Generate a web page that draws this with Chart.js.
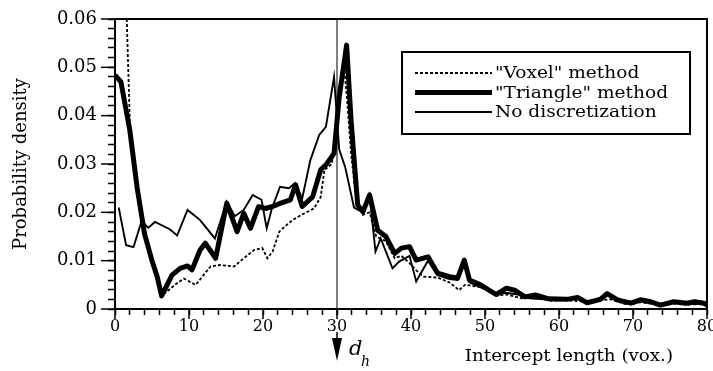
<!DOCTYPE html>
<html><head><meta charset="utf-8">
<script src="https://cdn.jsdelivr.net/npm/chart.js@4/dist/chart.umd.min.js"></script>
<style>html,body{margin:0;padding:0;background:#fff}canvas{display:block}</style>
</head><body>
<canvas id="c" width="713" height="371"></canvas>
<script>
// ---- data ----
const xTickLabels = ['0','10','20','30','40','50','60','70','80'];
const yTickLabels = ['0','0.01','0.02','0.03','0.04','0.05','0.06'];
const seriesNames = ['"Voxel" method', '"Triangle" method', 'No discretization'];
const xTitle = 'Intercept length (vox.)';
const yTitle = 'Probability density';
const dhValue = 30;

const voxelX = [1,2,2.7,3.6,5,6.5,7.0,8.1,9.3,10.9,11.8,12.9,14.2,16.1,17.4,18.8,19.9,20.6,21.3,22.2,22.9,24.0,25.1,26.9,27.8,28.3,29.3,29.9,30.5,31.0,31.4,31.9,32.6,33.5,34.4,35.3,36.6,37.8,38.7,39.8,40.7,41.7,43.6,45.2,46.5,47.3,49.4,51.5,53,55,57,59,61,63,65,67,69,71,73,75,77,79,80];
const voxelY = [0.09,0.039,0.029,0.019,0.0105,0.003,0.0036,0.0050,0.0063,0.0050,0.0067,0.0088,0.0091,0.0088,0.0105,0.0122,0.0126,0.0105,0.0119,0.0160,0.0170,0.0184,0.0194,0.0208,0.0232,0.0288,0.0300,0.0370,0.0453,0.0495,0.0426,0.0322,0.0225,0.0195,0.0200,0.0150,0.0140,0.0105,0.0110,0.0095,0.0080,0.0067,0.0065,0.0055,0.0039,0.0050,0.0045,0.0028,0.0030,0.0022,0.0024,0.0017,0.0018,0.0016,0.0017,0.0020,0.0010,0.0014,0.0010,0.0012,0.0009,0.0010,0.0008];

const triangleX = [0,0.8,2,3,4,5,5.7,6.3,7.7,8.8,9.8,10.4,11.5,12.2,13.6,15.1,16.5,17.4,18.3,19.4,20.3,21.3,22.4,23.7,24.4,25.3,26.7,27.8,28.6,29.6,30.3,31.3,31.9,32.8,33.5,34.4,35.5,36.6,37.8,38.7,39.8,40.7,42.3,43.6,45.2,46.3,47.2,47.9,49.4,51.5,52.9,54,55.4,56.8,58.6,61.1,62.5,63.8,65.6,66.5,67.9,69.7,71,72.4,73.7,75.5,77.3,78.3,79.6,80];
const triangleY = [0.0484,0.047,0.037,0.025,0.0155,0.0100,0.0067,0.0027,0.0070,0.0084,0.0089,0.0081,0.0122,0.0136,0.0105,0.0219,0.0160,0.0198,0.0167,0.0212,0.0208,0.0212,0.0219,0.0226,0.0257,0.0212,0.0232,0.0288,0.0300,0.0322,0.0439,0.0546,0.0390,0.0215,0.0201,0.0236,0.0163,0.0150,0.0115,0.0126,0.0129,0.0101,0.0108,0.0074,0.0067,0.0064,0.0101,0.0060,0.0050,0.0030,0.0043,0.0039,0.0025,0.0029,0.0021,0.0020,0.0024,0.0013,0.0020,0.0032,0.0019,0.0012,0.0019,0.0015,0.0008,0.0015,0.0012,0.0015,0.0012,0.0008];

const noDiscX = [0.5,1.5,2.5,3.6,4.5,5.4,7.4,8.4,9.8,11.5,13.5,15.1,16.2,17.4,18.6,19.8,20.5,21.2,22.3,23.5,24.3,25.3,26.4,27.6,28.5,29.6,30.3,31.1,32.3,33.5,34.4,35.2,35.9,37.5,38.4,39.8,40.7,42.3,43.6,45.2,46.3,47.2,47.9,49.4,51.5,53,54.5,56,58,60,62.5,64,66.5,68,70,71,73.7,75.5,77.5,80];
const noDiscY = [0.0210,0.0132,0.0128,0.0182,0.0168,0.0180,0.0165,0.0152,0.0205,0.0184,0.0146,0.0222,0.0192,0.0205,0.0236,0.0226,0.0167,0.0208,0.0253,0.0250,0.0260,0.0229,0.0308,0.0360,0.0377,0.0480,0.0330,0.0294,0.0210,0.0200,0.0236,0.0119,0.0146,0.0084,0.0098,0.0110,0.0057,0.0100,0.0070,0.0062,0.0060,0.0095,0.0055,0.0045,0.0033,0.0033,0.0030,0.0022,0.0020,0.0018,0.0022,0.0012,0.0030,0.0016,0.0010,0.0017,0.0007,0.0013,0.0010,0.0010];

const pts = (xs, ys) => xs.map((x, i) => ({x, y: ys[i]}));
const SERIF = 'DejaVu Serif';

// draw text stretched horizontally (reference typeface is wider than DejaVu)
function wideText(ctx, text, x, y, sx, align) {
  ctx.save();
  const w = ctx.measureText(text).width * sx;
  const left = align === 'right' ? x - w : x;
  ctx.translate(left, y);
  ctx.scale(sx, 1);
  ctx.textAlign = 'left';
  ctx.fillText(text, 0, 0);
  ctx.restore();
}

// ---- decorations: frame, major ticks, d_h marker, legend, x title ----
const decor = {
  id: 'decor',
  afterDraw(chart) {
    const {ctx, chartArea: a, scales: {x, y}} = chart;
    ctx.save();
    ctx.strokeStyle = '#000'; ctx.fillStyle = '#000';
    // frame
    ctx.lineWidth = 2;
    ctx.strokeRect(a.left, a.top, a.right - a.left, a.bottom - a.top);
    // major tick extensions
    ctx.lineWidth = 1.5;
    xTickLabels.forEach(l => {
      const px = x.getPixelForValue(+l);
      ctx.beginPath(); ctx.moveTo(px, a.bottom); ctx.lineTo(px, a.bottom + 10); ctx.stroke();
    });
    yTickLabels.forEach(l => {
      const py = y.getPixelForValue(+l);
      ctx.beginPath(); ctx.moveTo(a.left, py); ctx.lineTo(a.left - 14, py); ctx.stroke();
    });
    // d_h vertical line and arrow
    const xd = x.getPixelForValue(dhValue);
    ctx.lineWidth = 1;
    ctx.beginPath(); ctx.moveTo(xd, a.top); ctx.lineTo(xd, a.bottom + 6); ctx.stroke();
    ctx.lineWidth = 1.5;
    ctx.beginPath(); ctx.moveTo(xd, a.bottom + 23); ctx.lineTo(xd, a.bottom + 32); ctx.stroke();
    ctx.beginPath();
    ctx.moveTo(xd - 5, a.bottom + 29); ctx.lineTo(xd + 5, a.bottom + 29); ctx.lineTo(xd, a.bottom + 52);
    ctx.closePath(); ctx.fill();
    ctx.textBaseline = 'alphabetic'; ctx.textAlign = 'left';
    ctx.font = 'italic 21px "' + SERIF + '"';
    ctx.fillText('d', xd + 12, a.bottom + 46);
    ctx.font = 'italic 14px "' + SERIF + '"';
    ctx.fillText('h', xd + 24, a.bottom + 57);
    // x axis title
    ctx.font = '16px "' + SERIF + '"';
    wideText(ctx, xTitle, 673, 361, 1.14, 'right');
    // legend
    const L = 402, T = 52, W = 288, H = 82;
    ctx.fillStyle = '#fff'; ctx.fillRect(L, T, W, H);
    ctx.fillStyle = '#000';
    ctx.lineWidth = 2; ctx.setLineDash([]);
    ctx.strokeRect(L, T, W, H);
    ctx.textBaseline = 'middle';
    ctx.font = '16px "' + SERIF + '"';
    chart.data.datasets.forEach((ds, i) => {
      const yy = T + 21 + i * 19.5;
      ctx.save();
      ctx.lineWidth = ds.borderWidth;
      ctx.setLineDash(ds.borderDash || []);
      ctx.beginPath(); ctx.moveTo(L + 13, yy); ctx.lineTo(L + 90, yy); ctx.stroke();
      ctx.restore();
      wideText(ctx, ds.label, L + 93, yy + 1, 1.16, 'left');
    });
    ctx.restore();
  }
};

new Chart(document.getElementById('c'), {
  type: 'line',
  data: {
    datasets: [
      {label: seriesNames[0], data: pts(voxelX, voxelY), borderColor: '#000', borderWidth: 1.8, borderDash: [3, 2], pointRadius: 0, tension: 0, fill: false},
      {label: seriesNames[1], data: pts(triangleX, triangleY), borderColor: '#000', borderWidth: 5, pointRadius: 0, tension: 0, fill: false, borderJoinStyle: 'round'},
      {label: seriesNames[2], data: pts(noDiscX, noDiscY), borderColor: '#000', borderWidth: 1.9, pointRadius: 0, tension: 0, fill: false}
    ]
  },
  options: {
    responsive: false, animation: false,
    layout: {padding: {top: 19, right: 6, left: 0, bottom: 0}},
    plugins: {legend: {display: false}, tooltip: {enabled: false}},
    scales: {
      x: {
        type: 'linear', min: 0, max: 80,
        border: {display: true, color: '#000', width: 2},
        grid: {drawOnChartArea: false, drawTicks: true, tickLength: 6, tickColor: '#000', tickWidth: 1.5},
        ticks: {stepSize: 2, maxTicksLimit: 100, autoSkip: false, maxRotation: 0, padding: 2, color: '#000',
          font: {family: SERIF, size: 16},
          callback: v => xTickLabels.includes(String(v)) ? String(v) : ''},
        afterFit: s => { s.height = 62; s.paddingLeft = 0; s.paddingRight = 0; }
      },
      y: {
        min: 0, max: 0.06,
        border: {display: true, color: '#000', width: 2},
        grid: {drawOnChartArea: false, drawTicks: true, tickLength: 7, tickColor: '#000', tickWidth: 1.5},
        ticks: {stepSize: 0.002, maxTicksLimit: 100, autoSkip: false, padding: 11, color: '#000',
          font: {family: SERIF, size: 18},
          callback: v => { const i = Math.round(v / 0.01); return Math.abs(v - i * 0.01) < 1e-9 ? yTickLabels[i] : ''; }},
        title: {display: true, text: yTitle, color: '#000', font: {family: SERIF, size: 18}, padding: {top: 11, bottom: 0}},
        afterFit: s => { s.width = 115; s.paddingTop = 0; s.paddingBottom = 0; }
      }
    }
  },
  plugins: [decor]
});
</script>
</body></html>
